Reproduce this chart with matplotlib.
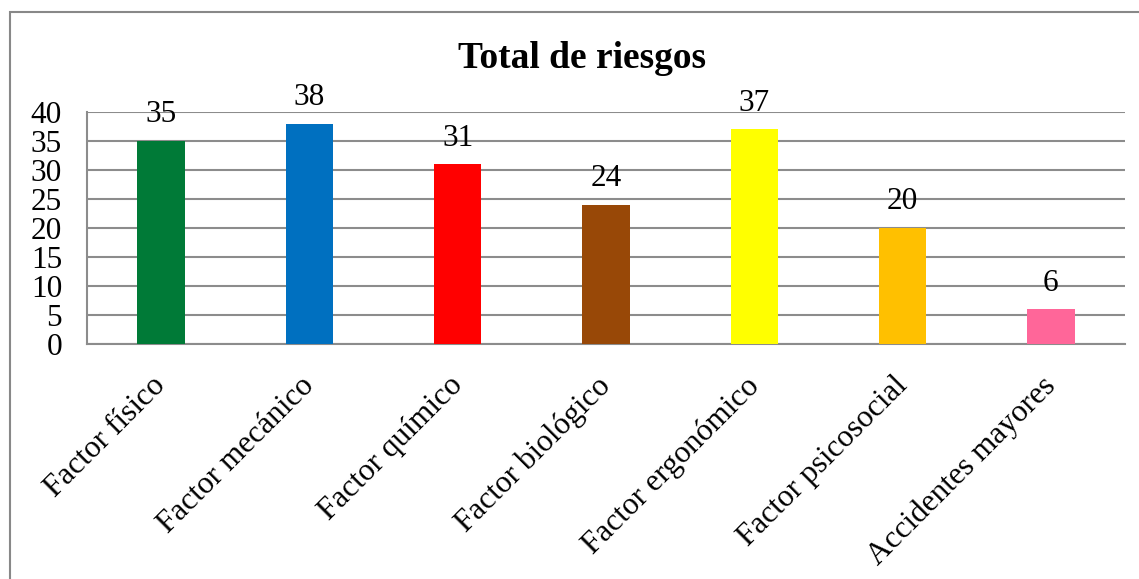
import matplotlib
matplotlib.use("Agg")
import matplotlib.pyplot as plt
from matplotlib.patches import Rectangle
from matplotlib.transforms import ScaledTranslation

categories = ["Factor físico", "Factor mecánico", "Factor químico", "Factor biológico",
              "Factor ergonómico", "Factor psicosocial", "Accidentes mayores"]
values = [35, 38, 31, 24, 37, 20, 6]
colors = ["#007A37", "#0070C0", "#FF0000", "#984807", "#FFFF00", "#FFC000", "#FF6699"]
yticks = [0, 5, 10, 15, 20, 25, 30, 35, 40]
title = "Total de riesgos"

plt.rcParams['font.family'] = ['Liberation Serif', 'DejaVu Serif']

W, H = 1139, 579
fig = plt.figure(figsize=(W / 100, H / 100), dpi=100)
fig.patches.append(Rectangle((10 / W, -0.1), 1.2, (H - 12) / H + 0.1, transform=fig.transFigure,
                             fill=False, edgecolor="#888888", linewidth=1.5))

left, right, top, bottom = 87, 1125, 112, 344
ax = fig.add_axes([left / W, 1 - bottom / H, (right - left) / W, (bottom - top) / H])

x = list(range(len(categories)))
ax.bar(x, values, width=0.32, color=colors, zorder=3)
ax.set_xlim(-0.5, len(categories) - 0.5)
ax.set_ylim(0, 40)
ax.set_yticks(yticks)
ax.set_yticklabels([str(v) for v in yticks], fontsize=22.5)
ax.grid(axis='y', color="#8c8c8c", linewidth=1.5, zorder=0)
ax.set_axisbelow(True)
for s in ["top", "right"]:
    ax.spines[s].set_visible(False)
for s in ["left", "bottom"]:
    ax.spines[s].set_color("#8c8c8c")
    ax.spines[s].set_linewidth(1.5)
ax.tick_params(axis='y', length=0, pad=18)
ax.tick_params(axis='x', length=0, pad=16)
ax.set_xticks(x)
ax.set_xticklabels(categories, rotation=45, ha='right', va='top', rotation_mode='anchor', fontsize=22.5)
shift = ScaledTranslation(-0.10, -0.05, fig.dpi_scale_trans)
for lab in ax.get_xticklabels():
    lab.set_transform(lab.get_transform() + shift)

for xi, v in zip(x, values):
    ax.text(xi, v + 2.0, str(v), ha='center', va='bottom', fontsize=22.5)

fig.text(582 / W, 1 - 58 / H, title, ha='center', va='center',
         fontsize=27, fontweight='bold')

fig.savefig("out.png", dpi=100)
